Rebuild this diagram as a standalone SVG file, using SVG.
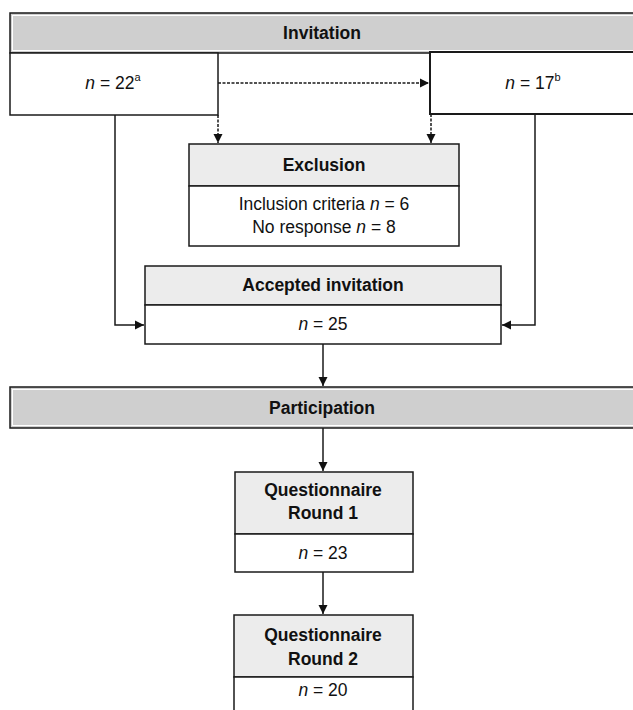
<svg xmlns="http://www.w3.org/2000/svg" width="633" height="710" viewBox="0 0 633 710">
<defs>
<marker id="ah" markerWidth="10" markerHeight="10" refX="9" refY="5" orient="auto" markerUnits="userSpaceOnUse">
<path d="M0,0.5 L9,5 L0,9.5 Z" fill="#111"/>
</marker>
<style>
.box{fill:#fff;stroke:#1a1a1a;stroke-width:1.5}
.hd{fill:#cfcfcf;stroke:#1a1a1a;stroke-width:1.5}
.hl{fill:#ececec;stroke:#1a1a1a;stroke-width:1.5}
.inner{fill:none;stroke:#fff;stroke-width:1}
.ln{fill:none;stroke:#1a1a1a;stroke-width:1.5}
.dt{fill:none;stroke:#1a1a1a;stroke-width:1.5;stroke-dasharray:3 1.5}
text{font-family:"Liberation Sans",Arial,sans-serif;font-size:17.5px;fill:#111;text-anchor:middle;dominant-baseline:central}
.b{font-weight:bold}
.i{font-style:italic}
.sup{font-size:11px}
</style>
</defs>
<g id="connectors">
<path class="dt" d="M218,83 H429" marker-end="url(#ah)"/>
<path class="dt" d="M218,115 V143" marker-end="url(#ah)"/>
<path class="dt" d="M431,114 V143" marker-end="url(#ah)"/>
<path class="ln" d="M115,115 V325 H144" marker-end="url(#ah)"/>
<path class="ln" d="M535,114 V325 H502" marker-end="url(#ah)"/>
<path class="ln" d="M323,344 V386" marker-end="url(#ah)"/>
<path class="ln" d="M323,428 V471" marker-end="url(#ah)"/>
<path class="ln" d="M323,572 V614" marker-end="url(#ah)"/>
</g>
<g id="invitation">
<rect class="hd" x="10" y="13" width="630" height="40"/>
<rect class="inner" x="12.5" y="15.5" width="630" height="35"/>
<text class="b" x="322" y="33">Invitation</text>
</g>
<g id="left-invited">
<rect class="box" x="10" y="53" width="208" height="62"/>
<text x="113" y="83"><tspan class="i">n</tspan> = 22<tspan class="sup" dy="-6">a</tspan></text>
</g>
<g id="right-invited">
<rect class="box" x="430" y="52" width="210" height="62" style="stroke-width:2"/>
<text x="533" y="83"><tspan class="i">n</tspan> = 17<tspan class="sup" dy="-6">b</tspan></text>
</g>
<g id="exclusion">
<rect class="hl" x="189" y="144" width="270" height="42"/>
<rect class="box" x="189" y="186" width="270" height="60"/>
<text class="b" x="324" y="165">Exclusion</text>
<text x="324" y="204">Inclusion criteria <tspan class="i">n</tspan> = 6</text>
<text x="324" y="227">No response <tspan class="i">n</tspan> = 8</text>
</g>
<g id="accepted">
<rect class="hl" x="145" y="266" width="356" height="39"/>
<rect class="box" x="145" y="305" width="356" height="39"/>
<text class="b" x="323" y="285">Accepted invitation</text>
<text x="323" y="324"><tspan class="i">n</tspan> = 25</text>
</g>
<g id="participation">
<rect class="hd" x="10" y="387" width="630" height="41"/>
<rect class="inner" x="12.5" y="389.5" width="630" height="36"/>
<text class="b" x="322" y="408">Participation</text>
</g>
<g id="round1">
<rect class="hl" x="235" y="472" width="178" height="62"/>
<rect class="box" x="235" y="534" width="178" height="38"/>
<text class="b" x="323" y="490">Questionnaire</text>
<text class="b" x="323" y="513">Round 1</text>
<text x="323" y="553"><tspan class="i">n</tspan> = 23</text>
</g>
<g id="round2">
<rect class="hl" x="234" y="615" width="179" height="62"/>
<rect class="box" x="234" y="677" width="179" height="40"/>
<text class="b" x="323" y="635">Questionnaire</text>
<text class="b" x="323" y="659">Round 2</text>
<text x="323" y="690"><tspan class="i">n</tspan> = 20</text>
</g>
</svg>
